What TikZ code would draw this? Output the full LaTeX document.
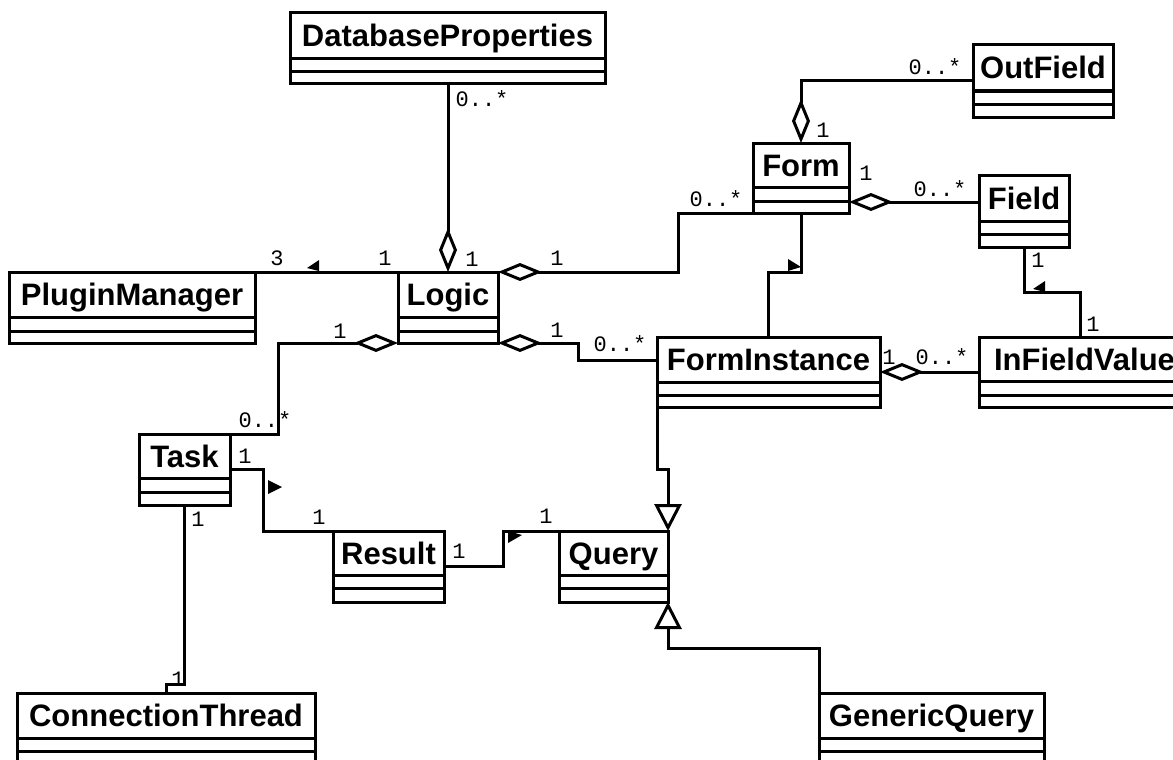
\documentclass[tikz,border=0pt]{standalone}
\usepackage{fontspec}
\setmainfont{Liberation Sans}
\newfontfamily\monof{Liberation Mono}
\usetikzlibrary{arrows.meta,calc}
\tikzset{
 clsbox/.style={draw, line width=3pt, inner sep=0pt, outer sep=0pt, anchor=north west},
 clsline/.style={line width=3pt},
 clsname/.style={font=\bfseries\fontsize{31}{31}\selectfont, inner sep=0pt, text height=22pt, text depth=0pt, anchor=center},
 conn/.style={line width=3pt, line join=miter},
 aggs/.style={conn, {Diamond[open, length=44pt, width=18pt]}-},
 agge/.style={conn, -{Diamond[open, length=44pt, width=18pt]}},
 gene/.style={conn, -{Triangle[open, length=27pt, width=27pt]}},
 mult/.style={font=\monof\fontsize{22}{22}\selectfont, inner sep=0pt, text height=13pt, text depth=0pt},
 navtip/.style={fill=black},
}
\newcommand\umlclass[8]{%
 \node[clsbox, minimum width={(#4-#2)*1pt}, minimum height={(#7-#3)*1pt}] (#1) at (#2,#3) {};
 \draw[clsline] (#2,#5) -- (#4,#5) (#2,#6) -- (#4,#6);
 \node[clsname] (#1-name) at ({(#2+#4)/2},{(#3+#5)/2}) {#8};
}
\begin{document}
\begin{tikzpicture}[x=1pt,y=-1pt]
\useasboundingbox (0,0) rectangle (1173,760);
\clip (0,0) rectangle (1173,760);
\fill[white] (0,0) rectangle (1173,760);

% classes
\umlclass{db}{290}{13}{605}{59}{72}{84}{DatabaseProperties}
\umlclass{outf}{973}{45}{1113}{91}{104}{117}{OutField}
\umlclass{form}{753}{143}{849}{187}{201}{213}{Form}
\umlclass{field}{979}{175}{1069}{221}{234}{247}{Field}
\umlclass{pm}{9}{272}{255}{317}{331}{343}{PluginManager}
\umlclass{logic}{398}{272}{498}{317}{331}{343}{Logic}
\umlclass{fi}{657}{337}{880}{382}{395}{407}{FormInstance}
\umlclass{ifv}{979}{337}{1190}{381}{395}{407}{InFieldValue}
\umlclass{task}{139}{434}{230}{478}{492}{505}{Task}
\umlclass{result}{333}{531}{444}{575}{588}{602}{Result}
\umlclass{query}{559}{531}{668}{575}{588}{602}{Query}
\umlclass{ct}{17}{693}{315}{738}{751}{770}{ConnectionThread}
\umlclass{gq}{819}{693}{1044}{738}{751}{770}{GenericQuery}

% multiplicities
\node[mult] (m1) at (482,100) {0..*};
\node[mult] (m2) at (472,260) {1};
\node[mult] (m3) at (277,259) {3};
\node[mult] (m4) at (385,259) {1};
\node[mult] (m5) at (557,259) {1};
\node[mult] (m6) at (716,200) {0..*};
\node[mult] (m7) at (823,131) {1};
\node[mult] (m8) at (935,68) {0..*};
\node[mult] (m9) at (866,174) {1};
\node[mult] (m10) at (940,190) {0..*};
\node[mult] (m11) at (1038,261) {1};
\node[mult] (m12) at (1093,325) {1};
\node[mult] (m13) at (889,358) {1};
\node[mult] (m14) at (942,358) {0..*};
\node[mult] (m15) at (557,331) {1};
\node[mult] (m16) at (620,345) {0..*};
\node[mult] (m17) at (340,332) {1};
\node[mult] (m18) at (265,421) {0..*};
\node[mult] (m19) at (245,457) {1};
\node[mult] (m20) at (319,518) {1};
\node[mult] (m21) at (198,520) {1};
\node[mult] (m22) at (178,680) {1};
\node[mult] (m23) at (459,552) {1};
\node[mult] (m24) at (546,517) {1};

% connectors
\draw[agge] (db.south -| logic.north) -- (logic.north);
\draw[conn] (logic.north west) -- (pm.north east);
\fill[navtip] (319,260) -- (319,271) -- (307,268) -- cycle;
\draw[aggs] (logic.north east) -- ++(180,0) |- (form.south west);
\draw[aggs] (form.north) |- (outf.west);
\draw[aggs] ($(form.north east)+(0,59)$) coordinate (ff) -- (ff -| field.west);
\draw[conn] (form.south) -- ++(0,59) -| ($(fi.north west)+(111,0)$);
\fill[navtip] (788,259) -- (788,271) -- (801,267) -- cycle;
\draw[conn] (field.south) -- ++(0,45) -| ($(ifv.north west)+(101,0)$);
\fill[navtip] (1045,281) -- (1045,292) -- (1033,289) -- cycle;
\draw[aggs] ($(fi.north east)+(0,35)$) coordinate (fv) -- (fv -| ifv.west);
\draw[aggs] (logic.south east) -- ++(80,0) |- ($(fi.north west)+(0,23)$);
\draw[aggs] (logic.south west) -- ++(-120,0) |- (task.north east);
\draw[conn] ($(task.north east)+(0,35)$) -- ++(33,0) |- (result.north west);
\fill[navtip] (268,480) -- (268,494) -- (282,487) -- cycle;
\draw[conn] (task.south) |- ($(ct.north)+(0,-9)$) -- (ct.north);
\draw[conn] ($(result.north east)+(0,35)$) -- ++(59,0) |- (query.north west);
\fill[navtip] (508,531) -- (508,543) -- (522,535) -- cycle;
\draw[gene] (fi.south west) -- ++(0,62) -| (query.north east);
\draw[gene] (gq.north west) -- ++(0,-45) -| (query.south east);
\end{tikzpicture}
\end{document}
